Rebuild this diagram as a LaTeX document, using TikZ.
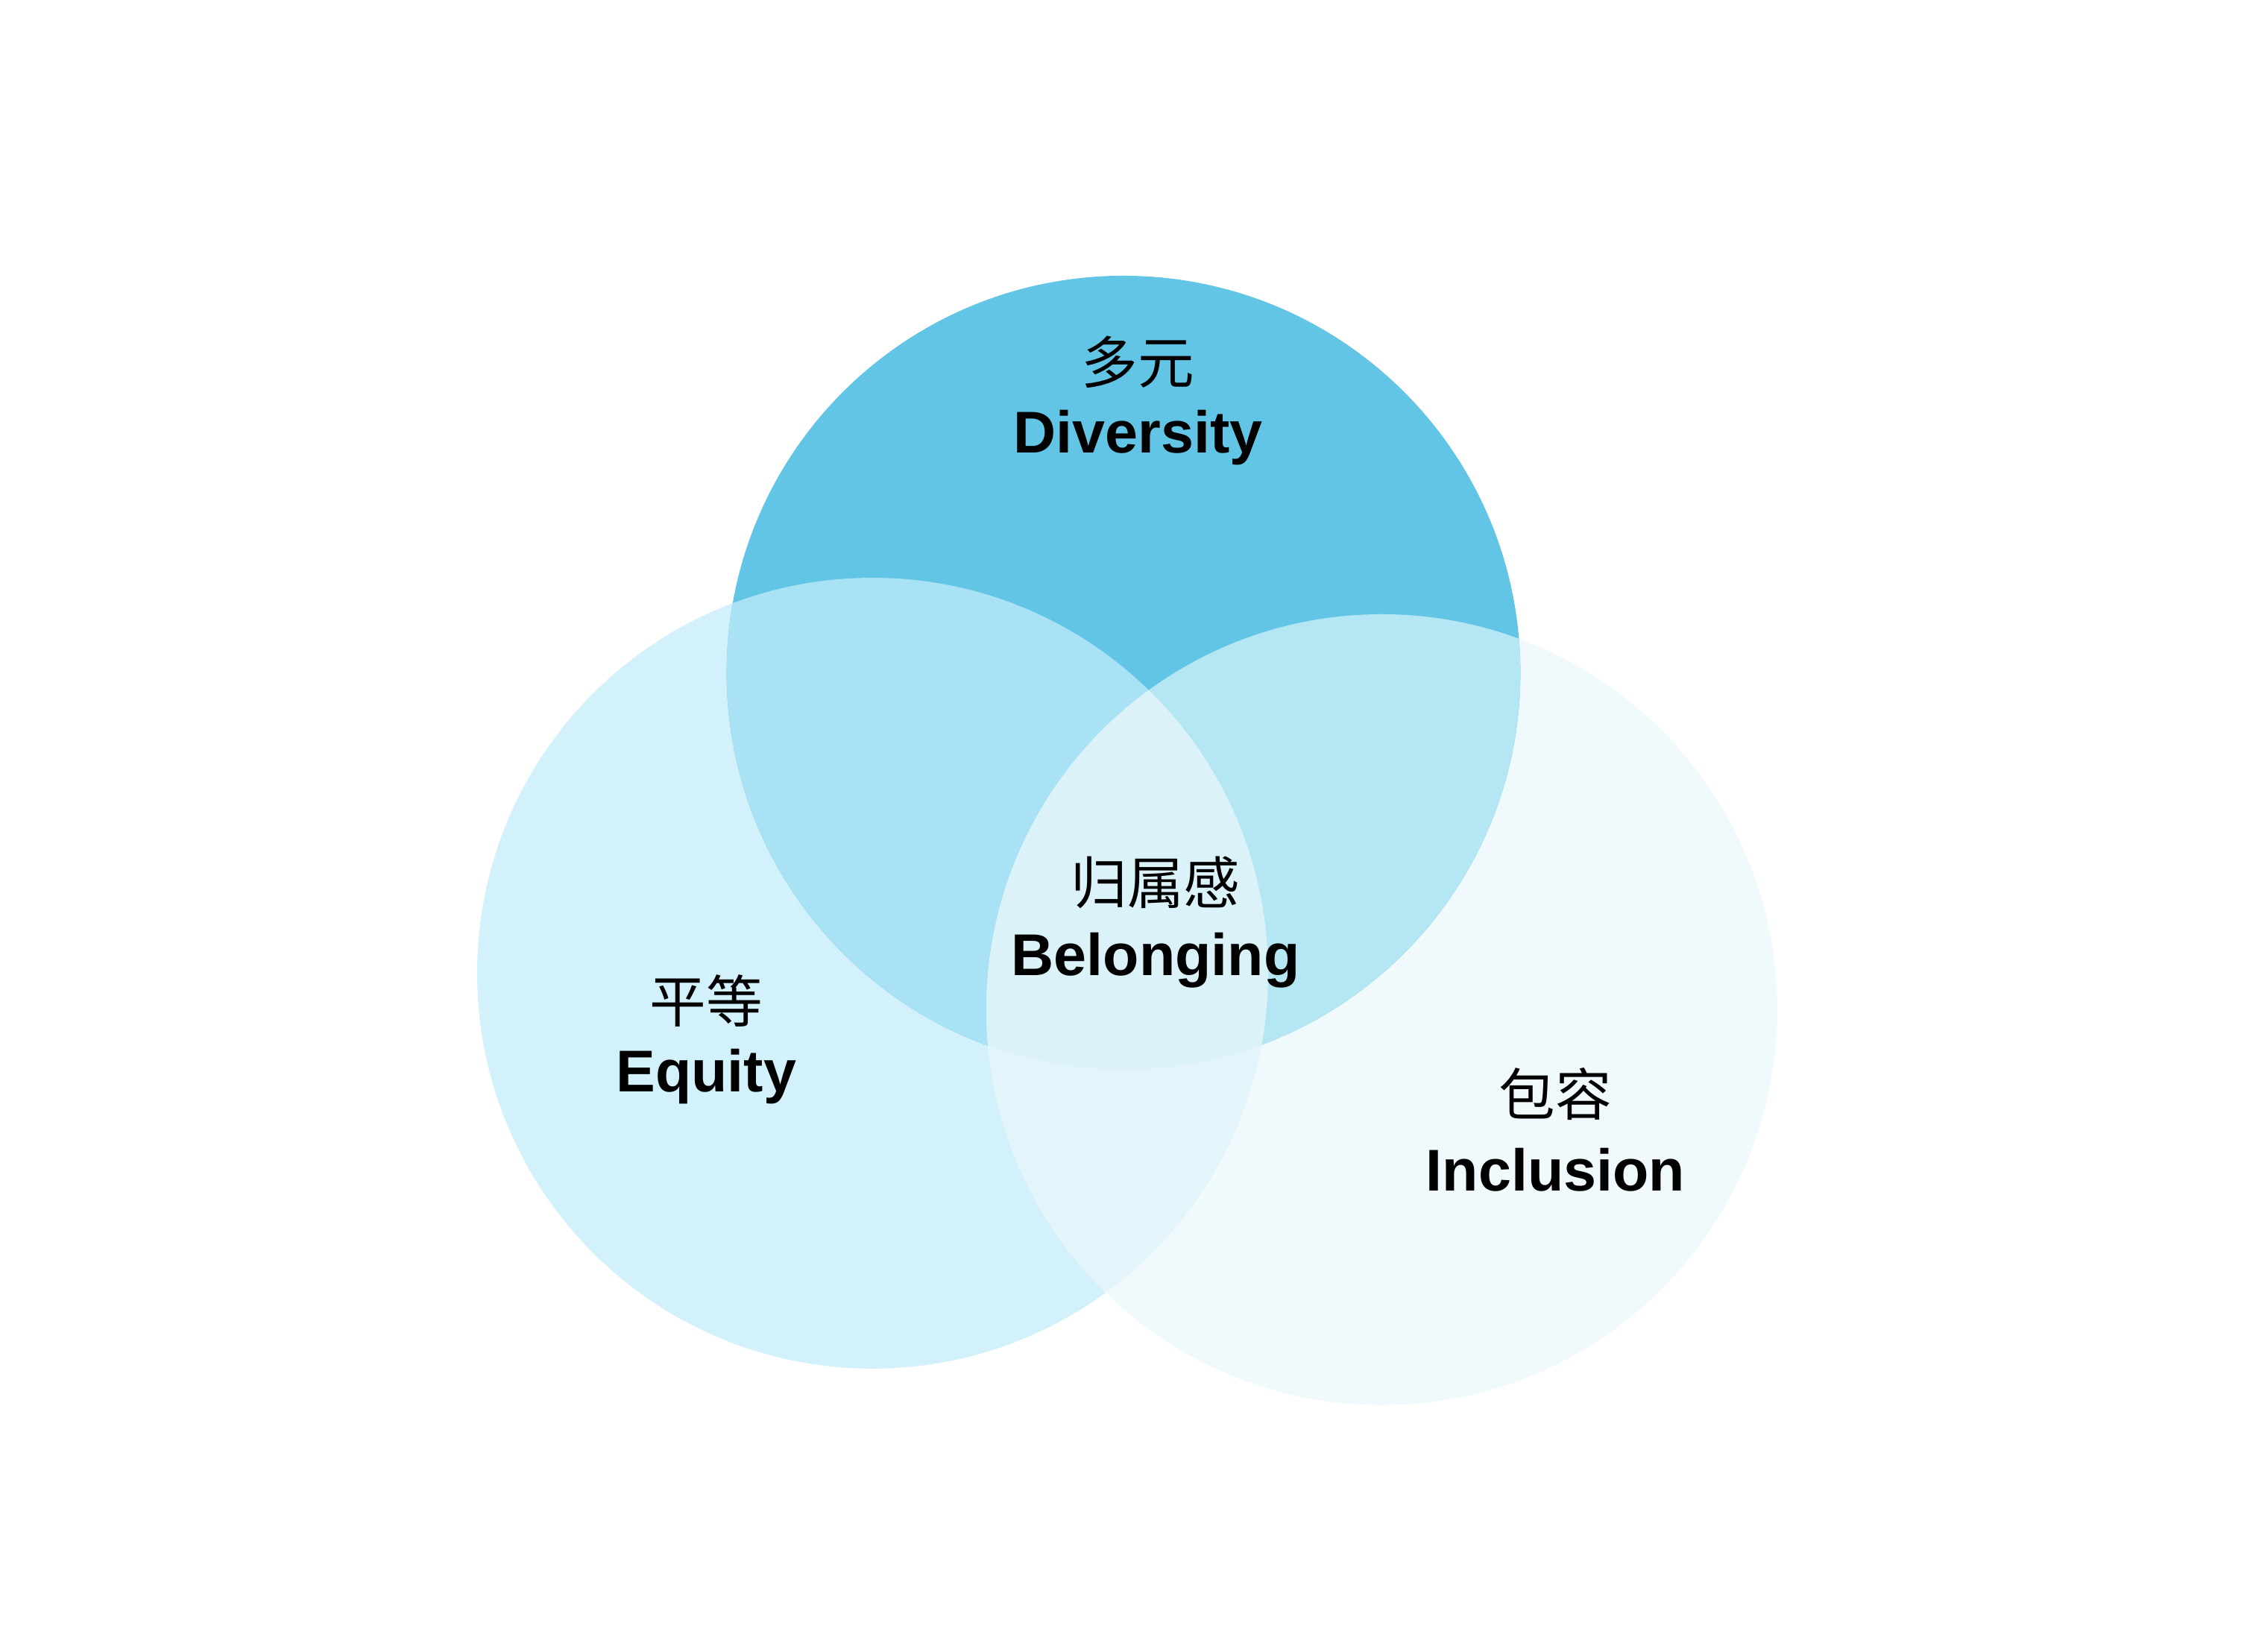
\documentclass[tikz,border=0pt]{standalone}
\usepackage{fontspec}
\setmainfont{Liberation Sans}
\newfontfamily\cjk{Noto Sans CJK SC}
\definecolor{conly}{HTML}{63C5E5}
\definecolor{eonly}{HTML}{D2F1FB}
\definecolor{ionly}{HTML}{F0FAFD}
\definecolor{de}{HTML}{A9E2F5}
\definecolor{di}{HTML}{B5E6F3}
\definecolor{ei}{HTML}{E3F5FB}
\definecolor{dei}{HTML}{DCF2F9}
\begin{document}
\begin{tikzpicture}[x=0.02cm,y=-0.02cm,
  lbl/.style={font=\fontsize{23}{27}\selectfont\bfseries, align=center, text=black},
  zh/.style={font=\fontsize{22}{26}\selectfont\cjk, text=black}]
\useasboundingbox (0,0) rectangle (1540,1132);
\fill[white] (0,0) rectangle (1540,1132);
\def\D{(770,461) circle (272)}
\def\E{(598,667) circle (271)}
\def\I{(947,692) circle (271)}
\fill[eonly] \E;
\fill[ionly] \I;
\fill[conly] \D;
\begin{scope}\clip \D; \fill[de] \E; \end{scope}
\begin{scope}\clip \D; \fill[di] \I; \end{scope}
\begin{scope}\clip \E; \fill[ei] \I; \end{scope}
\begin{scope}\clip \D; \clip \E; \fill[dei] \I; \end{scope}
\node[zh] (dz) at (780,248) {多元};
\node[lbl] (dl) at (780,300) {Diversity};
\node[zh] (bz) at (792,605) {归属感};
\node[lbl] (bl) at (792,658) {Belonging};
\node[zh] (ez) at (484,686) {平等};
\node[lbl] (el) at (484,738) {Equity};
\node[zh] (iz) at (1066,750) {包容};
\node[lbl] (il) at (1066,802) {Inclusion};
\end{tikzpicture}
\end{document}
